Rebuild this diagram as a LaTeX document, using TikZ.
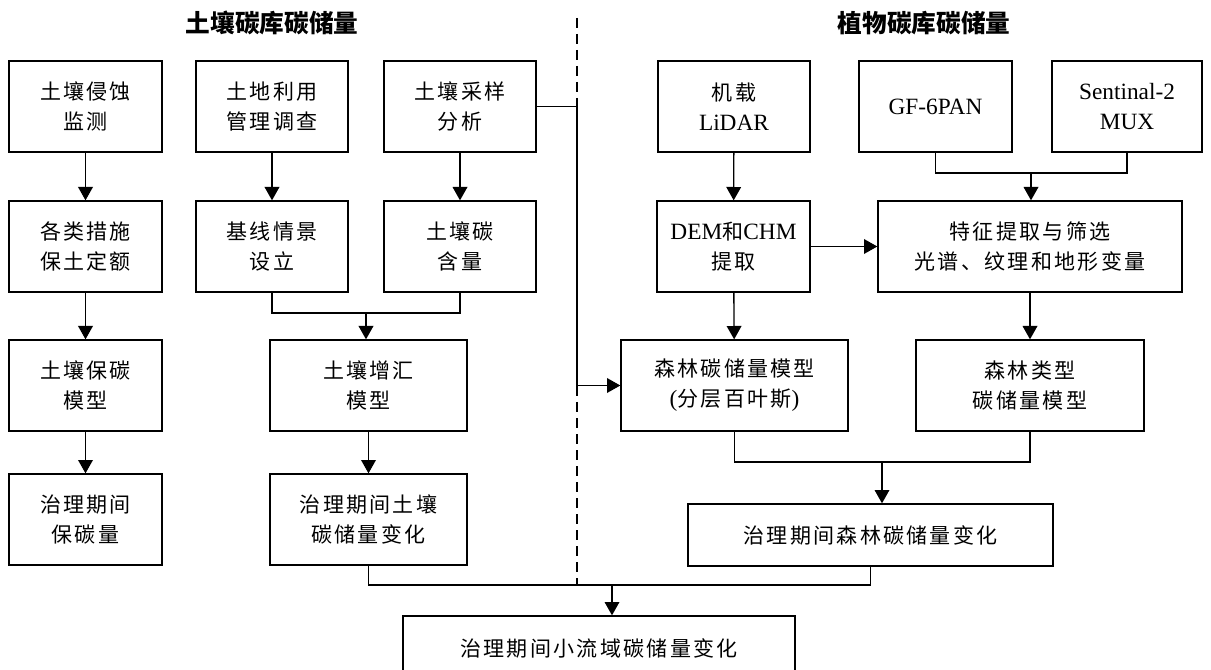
\documentclass[tikz,border=0pt]{standalone}
\usepackage{fontspec}
\setmainfont{Liberation Serif}
\newfontfamily\cjk[LetterSpace=11]{Noto Sans CJK SC}
\newfontfamily\cjkhead{Noto Sans CJK SC}
\usetikzlibrary{arrows.meta}
\newcommand\ltn[1]{{\rmfamily\fontsize{17.5}{22.5}\selectfont #1}}
\tikzset{
  box/.style={draw, line width=1pt, inner sep=0pt, minimum height=68.25pt,
    align=center, font=\cjk\fontsize{15.75}{22.5}\selectfont},
  head/.style={font=\cjkhead\bfseries\fontsize{18.5}{20}\selectfont},
  link/.style={line width=1pt},
  flow/.style={line width=1pt, -{Triangle[length=10pt,width=11pt]}}
}
\begin{document}
\begin{tikzpicture}[x=0.75pt,y=-0.75pt]
  \useasboundingbox (0,0) rectangle (1211,670);
  \clip (0,0) rectangle (1211,670);
  \node[head] (soilhead) at (272,23) {土壤碳库碳储量};
  \node[head] (planthead) at (924,23) {植物碳库碳储量};
  \node[box, minimum width=114.75pt] (erosion) at (85.5,106.5) {土壤侵蚀\\监测};
  \node[box, minimum width=114.75pt] (quota) at (85.5,246.5) {各类措施\\保土定额};
  \node[box, minimum width=114.75pt] (keepmodel) at (85.5,385.5) {土壤保碳\\模型};
  \node[box, minimum width=114.75pt] (keep) at (85.5,519.5) {治理期间\\保碳量};
  \node[box, minimum width=114pt] (landuse) at (272,106.5) {土地利用\\管理调查};
  \node[box, minimum width=114pt] (baseline) at (272,246.5) {基线情景\\设立};
  \node[box, minimum width=114pt] (sampling) at (460,106.5) {土壤采样\\分析};
  \node[box, minimum width=114pt] (content) at (460,246.5) {土壤碳\\含量};
  \node[box, minimum width=147.75pt] (sinkmodel) at (368.5,385.5) {土壤增汇\\模型};
  \node[box, minimum width=147.75pt] (soilchange) at (368.5,519.5) {治理期间土壤\\碳储量变化};
  \node[box, minimum width=114pt] (lidar) at (734,106.5) {机载\\\ltn{LiDAR}};
  \node[box, minimum width=114.75pt] (gf) at (935.5,106.5) {\ltn{GF-6PAN}};
  \node[box, minimum width=112.5pt] (s2) at (1127,106.5) {\ltn{Sentinal-2}\\\ltn{MUX}};
  \node[box, minimum width=114.75pt] (dem) at (733.5,246.5) {\ltn{DEM}和\ltn{CHM}\\提取};
  \node[box, minimum width=228pt] (feature) at (1030,246.5) {特征提取与筛选\\光谱、纹理和地形变量};
  \node[box, minimum width=170.25pt] (forestmodel) at (734.5,385.5) {森林碳储量模型\\\ltn{(}分层百叶斯\ltn{)}};
  \node[box, minimum width=171pt] (typemodel) at (1030,385.5) {森林类型\\碳储量模型};
  \node[box, minimum width=273.75pt, minimum height=46.5pt] (forestchange) at (870.5,535) {治理期间森林碳储量变化};
  \node[box, minimum width=294pt, minimum height=48pt] (total) at (599,648) {治理期间小流域碳储量变化};
  \coordinate (divtop) at (577,18);
  \coordinate (divbot) at (577,585);
  \coordinate (soiljoin) at (366,313);
  \coordinate (imgjoin) at (1031,173);
  \coordinate (forestjoin) at (882,462);
  \coordinate (alljoin) at (612,585);
  \draw[link, dash pattern=on 7.5pt off 4.5pt] (divtop) -- (divbot);
  \draw[flow] (erosion) -- (quota);
  \draw[flow] (quota) -- (keepmodel);
  \draw[flow] (keepmodel) -- (keep);
  \draw[flow] (landuse) -- (baseline);
  \draw[flow] (sampling) -- (content);
  \draw[link] (baseline.south) |- (soiljoin -| content.south) -- (content.south);
  \draw[flow] (soiljoin) -- (soiljoin |- sinkmodel.north);
  \draw[flow] (sinkmodel) -- (soilchange);
  \draw[flow] (sampling.east) -- (sampling.east -| divtop) |- (forestmodel.west);
  \draw[flow] (lidar) -- (dem);
  \draw[flow] (dem) -- (feature);
  \draw[link] (gf.south) |- (imgjoin -| s2.south) -- (s2.south);
  \draw[flow] (imgjoin) -- (imgjoin |- feature.north);
  \draw[flow] (dem) -- (forestmodel);
  \draw[flow] (feature) -- (typemodel);
  \draw[link] (forestmodel.south) |- (forestjoin -| typemodel.south) -- (typemodel.south);
  \draw[flow] (forestjoin) -- (forestjoin |- forestchange.north);
  \draw[link] (soilchange.south) |- (alljoin -| forestchange.south) -- (forestchange.south);
  \draw[flow] (alljoin) -- (alljoin |- total.north);
\end{tikzpicture}
\end{document}
